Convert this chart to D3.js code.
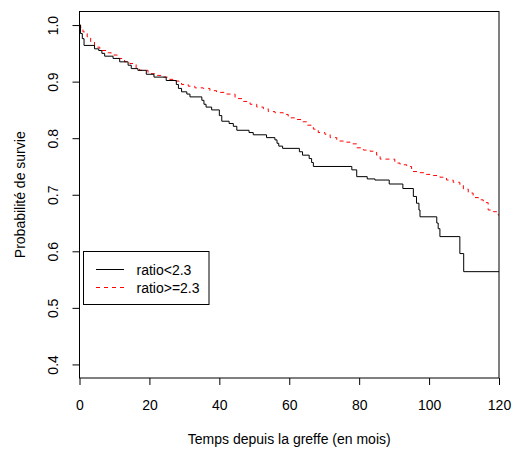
<!DOCTYPE html>
<html>
<head>
<meta charset="utf-8">
<script src="https://cdn.jsdelivr.net/npm/d3@7"></script>
<style>
  body { margin: 0; background: #fff; }
  svg { font-family: "Liberation Sans", Arial, sans-serif; }
</style>
</head>
<body>
<svg id="chart" width="512" height="450"></svg>
<script>
// Kaplan-Meier curves: time of each step and survival after it
const lowTimes = [0, 0.3, 0.8, 1.3, 4.3, 5.5, 6.4, 7.2, 9.6, 11.5, 13.9, 14.8, 16.7, 19.1, 21.3, 24.8,
  27.7, 28.3, 29.2, 30.7, 31.6, 35.0, 35.6, 36.2, 37.8, 40.0, 40.7, 42.8, 44.0, 45.0, 48.5, 49.7,
  53.5, 55.9, 56.5, 57.0, 58.1, 62.9, 63.8, 65.7, 66.4, 66.9, 77.9, 79.3, 82.3, 84.5, 88.6, 92.5,
  95.5, 96.4, 97.1, 97.4, 102.2, 102.6, 103.1, 108.8, 109.9, 120];
const lowSurv = [1.0, 0.985, 0.976, 0.964, 0.958, 0.955, 0.950, 0.945, 0.941, 0.935, 0.929, 0.923, 0.920, 0.913, 0.908, 0.902,
  0.895, 0.888, 0.882, 0.878, 0.873, 0.867, 0.860, 0.855, 0.850, 0.840, 0.830, 0.826, 0.821, 0.814, 0.810, 0.806,
  0.801, 0.797, 0.791, 0.786, 0.782, 0.776, 0.770, 0.764, 0.757, 0.750, 0.744, 0.732, 0.728, 0.726, 0.719, 0.711,
  0.697, 0.685, 0.673, 0.661, 0.650, 0.640, 0.626, 0.596, 0.564, 0.564];

const highTimes = [0, 0.3, 1.0, 2.2, 3.2, 4.3, 5.8, 6.2, 7.7, 9.1, 11.0, 12.9, 14.4, 16.2, 17.2, 19.6,
  22.0, 23.9, 25.8, 27.3, 28.5, 29.2, 31.1, 33.0, 35.4, 37.3, 39.2, 42.1, 44.5, 46.9, 48.8, 50.7,
  52.6, 54.0, 55.9, 58.3, 59.7, 61.6, 63.6, 65.0, 66.9, 68.3, 70.2, 71.7, 73.6, 75.5, 77.4, 79.3,
  81.2, 83.1, 85.0, 86.0, 90.2, 91.7, 93.6, 95.0, 96.9, 98.8, 101.2, 103.1, 105.0, 106.9, 108.8,
  109.8, 111.2, 112.6, 114.1, 115.5, 116.9, 118.4, 119.8, 120];
const highSurv = [1.0, 0.996, 0.988, 0.979, 0.970, 0.961, 0.958, 0.955, 0.951, 0.947, 0.941, 0.935, 0.932, 0.923, 0.920, 0.914,
  0.911, 0.908, 0.904, 0.901, 0.898, 0.895, 0.892, 0.889, 0.888, 0.884, 0.881, 0.878, 0.870, 0.865, 0.860, 0.855,
  0.852, 0.847, 0.845, 0.842, 0.836, 0.833, 0.829, 0.823, 0.816, 0.810, 0.807, 0.801, 0.795, 0.793, 0.790, 0.783,
  0.779, 0.777, 0.770, 0.763, 0.756, 0.753, 0.750, 0.741, 0.739, 0.736, 0.734, 0.731, 0.726, 0.722, 0.717,
  0.710, 0.703, 0.695, 0.691, 0.686, 0.673, 0.670, 0.664, 0.664];

const groups = ['ratio<2.3', 'ratio>=2.3'];
const xTicks = [0, 20, 40, 60, 80, 100, 120];
const yTicks = [0.4, 0.5, 0.6, 0.7, 0.8, 0.9, 1.0];

const fontSize = 14;
var svg = d3.select('#chart');
svg.append('rect').attr('width', 512).attr('height', 450).attr('fill', '#fff');

// plot region (named so it does not clash with window.top)
var pLeft = 79.5, pRight = 499, pTop = 11.5, pBottom = 378;

var x = d3.scaleLinear([0, 120], [pLeft, pRight]);
var y = d3.scaleLinear([0.376, 1.024], [pBottom, pTop]);

var series = [
  { name: groups[0], pts: lowTimes.map((t, i) => [t, lowSurv[i]]), color: '#000000', dash: null },
  { name: groups[1], pts: highTimes.map((t, i) => [t, highSurv[i]]), color: '#ff0000', dash: '4,4' }
];

var line = d3.line()
    .x(d => x(d[0]))
    .y(d => y(d[1]))
    .curve(d3.curveStepAfter);

// red first so the black curve sits on top
series.slice().reverse().forEach(function(s) {
  svg.append('path')
      .datum(s.pts)
      .attr('fill', 'none')
      .attr('stroke', s.color)
      .attr('stroke-width', 1)
      .attr('stroke-dasharray', s.dash)
      .attr('d', line);
});

// plot box
svg.append('rect')
    .attr('x', pLeft).attr('y', pTop)
    .attr('width', pRight - pLeft).attr('height', pBottom - pTop)
    .attr('fill', 'none').attr('stroke', '#000');

var xAxis = svg.append('g')
    .attr('transform', `translate(0,${pBottom})`)
    .call(d3.axisBottom(x).tickValues(xTicks).tickSize(7).tickSizeOuter(0).tickPadding(15));
xAxis.select('.domain').remove();
xAxis.selectAll('text').attr('font-size', fontSize).attr('font-family', '"Liberation Sans", Arial, sans-serif').attr('fill', '#000');

var yAxis = svg.append('g')
    .attr('transform', `translate(${pLeft},0)`)
    .call(d3.axisLeft(y).tickValues(yTicks).tickSize(7).tickSizeOuter(0).tickFormat(d3.format('.1f')));
yAxis.select('.domain').remove();
yAxis.selectAll('.tick text')
    .attr('font-size', fontSize)
    .attr('font-family', '"Liberation Sans", Arial, sans-serif')
    .attr('fill', '#000')
    .attr('x', 0)
    .attr('dy', '0.35em')
    .attr('text-anchor', 'middle')
    .attr('transform', 'translate(-26,0) rotate(-90)');

svg.append('text')
    .attr('x', (pLeft + pRight) / 2).attr('y', 444)
    .attr('text-anchor', 'middle').attr('font-size', fontSize)
    .text('Temps depuis la greffe (en mois)');

svg.append('text')
    .attr('transform', `translate(25,${(pTop + pBottom) / 2}) rotate(-90)`)
    .attr('text-anchor', 'middle').attr('font-size', fontSize)
    .text('Probabilité de survie');

// legend
var lg = svg.append('g');
lg.append('rect')
    .attr('x', 83.5).attr('y', 251.5).attr('width', 125.5).attr('height', 53)
    .attr('fill', '#fff').attr('stroke', '#000');
series.forEach(function(s, i) {
  var ly = 269.5 + i * 18;
  lg.append('line')
      .attr('x1', 96).attr('x2', 124).attr('y1', ly).attr('y2', ly)
      .attr('stroke', s.color).attr('stroke-dasharray', s.dash);
  lg.append('text')
      .attr('x', 136.5).attr('y', ly + 5.2)
      .attr('font-size', fontSize)
      .text(s.name);
});
</script>
</body>
</html>
